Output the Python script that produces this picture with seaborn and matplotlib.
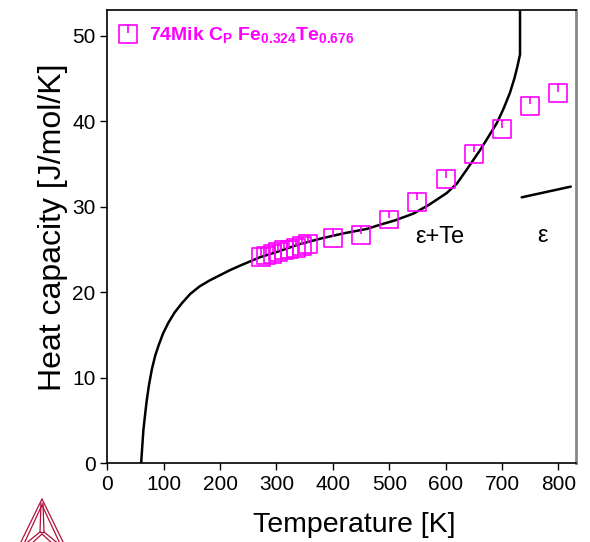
import numpy as np
import pandas as pd
import matplotlib
matplotlib.use("Agg")
import matplotlib.pyplot as plt
from matplotlib.path import Path
from matplotlib.lines import Line2D
import seaborn as sns

# measured Cp points (74Mik)
temp_exp = [272, 282, 293, 303, 313, 323, 334, 345, 356,
            400, 450, 500, 550, 600, 650, 700, 750, 800]
cp_exp = [24.1, 24.3, 24.5, 24.7, 24.9, 25.0, 25.2, 25.4, 25.6,
          26.3, 26.7, 28.5, 30.6, 33.2, 36.2, 39.1, 41.8, 43.3]

# calculated curve, eps+Te region
temp_calc = [60, 62, 64, 67, 70, 74, 79, 85, 91, 99, 108, 119, 132, 147, 164,
             182, 200, 218, 235, 253, 271, 300, 340, 380, 420, 460, 484, 510,
             543, 570, 602, 620, 637, 661, 678, 691, 703, 714, 722, 727, 732, 732]
cp_calc = [0.0, 2.0, 3.9, 5.7, 7.4, 9.2, 11.0, 12.6, 13.8, 15.2, 16.4, 17.6,
           18.7, 19.8, 20.7, 21.4, 22.0, 22.6, 23.1, 23.6, 24.1, 24.7, 25.6,
           26.3, 26.9, 27.4, 27.9, 28.4, 29.2, 30.2, 31.6, 32.7, 34.3, 36.6,
           38.4, 39.8, 41.5, 43.3, 45.0, 46.3, 47.8, 53.0]

# calculated curve, eps region
temp_eps = [735, 822]
cp_eps = [31.1, 32.35]

sns.set_style("ticks")
plt.rcParams['font.family'] = ['Liberation Sans', 'DejaVu Sans']
plt.rcParams['mathtext.fontset'] = 'custom'
plt.rcParams['mathtext.rm'] = 'Liberation Sans'
plt.rcParams['mathtext.bf'] = 'Liberation Sans:bold'
for k in ['text.color', 'axes.labelcolor', 'xtick.color', 'ytick.color']:
    plt.rcParams[k] = 'black'

fig = plt.figure(figsize=(5.9, 5.42), dpi=100)
ax = fig.add_axes([0.1819, 0.1452, 0.7941, 0.8363])

calc = pd.DataFrame({"T": temp_calc, "Cp": cp_calc})
eps = pd.DataFrame({"T": temp_eps, "Cp": cp_eps})
exp = pd.DataFrame({"T": temp_exp, "Cp": cp_exp})

sns.lineplot(data=calc, x="T", y="Cp", sort=False, estimator=None,
             color="black", lw=1.8, ax=ax)
sns.lineplot(data=eps, x="T", y="Cp", sort=False, estimator=None,
             color="black", lw=1.8, ax=ax)

# square with a small tick from the top (error mark)
verts = [(-1, -1), (1, -1), (1, 1), (-1, 1), (-1, -1), (0, 1), (0, 0.15)]
codes = [Path.MOVETO, Path.LINETO, Path.LINETO, Path.LINETO, Path.CLOSEPOLY,
         Path.MOVETO, Path.LINETO]
sq_mark = Path(verts, codes)

sns.scatterplot(data=exp, x="T", y="Cp", marker=sq_mark, s=165,
                facecolor="none", edgecolor="#ff00ff", linewidth=1.2,
                ax=ax, zorder=3)

h = Line2D([], [], marker=sq_mark, markersize=12.5, markerfacecolor="none",
           markeredgecolor="#ff00ff", markeredgewidth=1.2, linestyle="none")
ax.legend([h], [r"74Mik C$_\mathbf{P}$ Fe$_{\mathbf{0.324}}$Te$_{\mathbf{0.676}}$"],
          loc="upper left", bbox_to_anchor=(-0.013, 1.0), frameon=False,
          handletextpad=0.45, borderaxespad=0.5, borderpad=0.3,
          handlelength=1.2, labelcolor="#ff00ff",
          prop={"weight": "bold", "size": 14})

ax.text(590, 26.5, "ε+Te", fontsize=17, ha="center", va="center")
ax.text(772, 26.6, "ε", fontsize=17, ha="center", va="center")

ax.set_xlim(0, 831)
ax.set_ylim(0, 53)
ax.set_xticks(range(0, 801, 100))
ax.set_yticks(range(0, 51, 10))
ax.tick_params(direction="out", length=5, width=1, labelsize=15, color="black")
ax.set_xlabel("Temperature [K]", fontsize=20.5, labelpad=13)
ax.set_ylabel("Heat capacity [J/mol/K]", fontsize=23, labelpad=3)
ax.xaxis.label.set_x(0.528)
ax.yaxis.label.set_y(0.521)

for side in ["left", "bottom", "top"]:
    ax.spines[side].set_visible(True)
    ax.spines[side].set_color("black")
    ax.spines[side].set_linewidth(1.2)
ax.spines["right"].set_visible(True)
ax.spines["right"].set_color("#888888")
ax.spines["right"].set_linewidth(2.0)

# simple logo triangles at bottom left (pixel coords -> figure fraction)
W, H = 590, 542
logo_col = "#b0103a"
def seg(p, q):
    fig.add_artist(Line2D([p[0] / W, q[0] / W], [1 - p[1] / H, 1 - q[1] / H],
                          color=logo_col, lw=0.9, transform=fig.transFigure))
for dx in [0, 4]:
    seg((42, 499 + dx * 1.5), (18 + dx, 548))
    seg((42, 499 + dx * 1.5), (66 - dx, 548))
seg((41, 503), (40, 532))
seg((43, 503), (44, 532))
seg((40, 532), (44, 532))
seg((40, 532), (24, 545))
seg((44, 532), (60, 545))
seg((42, 534), (30, 545))
seg((42, 534), (54, 545))

fig.savefig("out.png", dpi=100)
